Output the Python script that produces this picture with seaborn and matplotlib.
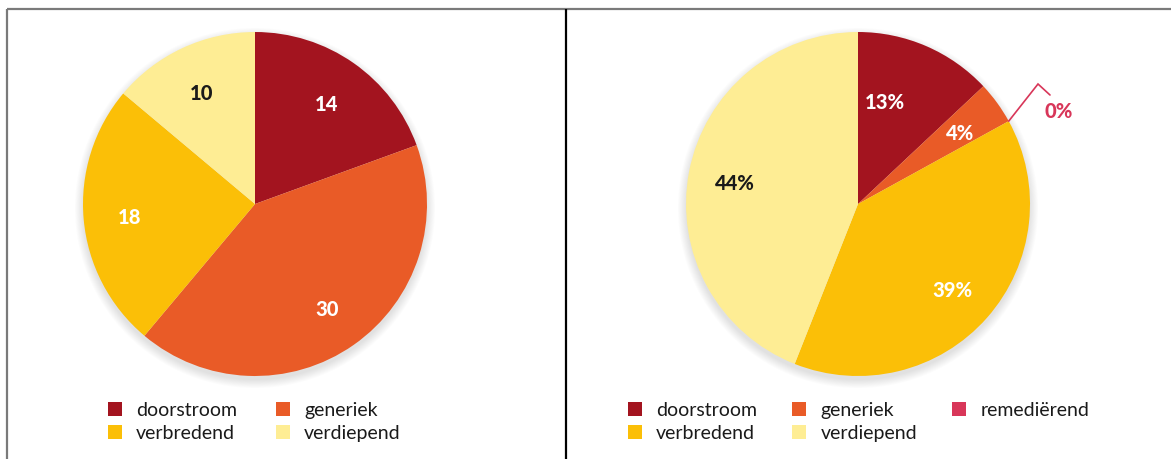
import numpy as np
import matplotlib
matplotlib.use("Agg")
import matplotlib.pyplot as plt
import seaborn as sns
from matplotlib.patches import Patch, Circle

sns.set_theme(style="white")
plt.rcParams['font.family'] = ['Lato', 'DejaVu Sans']

# Data: left pie (counts) and right pie (percentages)
left_names = ['doorstroom', 'generiek', 'verbredend', 'verdiepend']
left_values = [14, 30, 18, 10]

right_names = ['doorstroom', 'generiek', 'remediërend', 'verbredend', 'verdiepend']
right_values = [13, 4, 0, 39, 44]

palette = {
    'doorstroom': '#A3141F',
    'generiek': '#E95B27',
    'remediërend': '#D83659',
    'verbredend': '#FBBF07',
    'verdiepend': '#FEED94',
}
text_dark = '#1a1a1a'

W, H = 1171, 459
fig = plt.figure(figsize=(W / 100, H / 100), dpi=100)
ax = fig.add_axes([0, 0, 1, 1])
ax.set_xlim(0, W)
ax.set_ylim(0, H)
ax.axis('off')

R = 172


def soft_shadow(cx, cy):
    for i in range(10):
        ax.add_patch(Circle((cx, cy - 4), R + i * 0.9, color='black',
                            alpha=0.012, lw=0, zorder=0))


def draw_pie(cx, cy, names, values, fmt, nudges=None):
    nudges = nudges or {}
    soft_shadow(cx, cy)
    ax.pie(values, colors=[palette[n] for n in names],
           startangle=90, counterclock=False,
           center=(cx, cy), radius=R, frame=True,
           wedgeprops={'linewidth': 0})
    total = sum(values)
    angle = 90.0
    bounds = []
    for n, v in zip(names, values):
        span = v / total * 360
        mid = angle - span / 2
        bounds.append((angle, angle - span, mid))
        angle -= span
        if v == 0:
            continue
        da, rf = nudges.get(n, (0, 0.73))
        a = np.deg2rad(mid + da)
        col = text_dark if n == 'verdiepend' else 'white'
        ax.text(cx + rf * R * np.cos(a), cy + rf * R * np.sin(a) - 3, fmt(v),
                ha='center', va='center', fontsize=14.5, fontweight='black',
                color=col, zorder=5)
    return bounds


left_bounds = draw_pie(255, 255, left_names, left_values, lambda v: f'{v}')
right_bounds = draw_pie(858, 255, right_names, right_values, lambda v: f'{v}%',
                        nudges={'doorstroom': (9, 0.63)})

# leader line for the zero slice
zi = right_values.index(0)
a0 = np.deg2rad(right_bounds[zi][2])
p0 = (858 + R * np.cos(a0), 255 + R * np.sin(a0))
ax.plot([p0[0], 1038, 1050], [p0[1], 375, 364], color=palette['remediërend'],
        lw=1.2, solid_joinstyle='miter', zorder=6)
ax.text(1059, 348, f'{right_values[zi]}%', ha='center', va='center',
        fontsize=14.5, fontweight='black', color=palette['remediërend'])

# panel frame
ax.plot([7, W], [450, 450], color='#7a7a7a', lw=1.6, solid_capstyle='butt')
ax.plot([7, 7], [0, 450], color='#7a7a7a', lw=1.6, solid_capstyle='butt')
ax.plot([566, 566], [0, 450], color='black', lw=1.6, solid_capstyle='butt')

ax.set_xlim(0, W)
ax.set_ylim(0, H)
ax.set_aspect('auto')


def make_legend(order, anchor, ncol, colspacing):
    handles = [Patch(facecolor=palette[n], edgecolor='none', label=n) for n in order]
    leg = ax.legend(handles=handles, loc='upper left', bbox_to_anchor=anchor,
                    bbox_transform=ax.transData, ncol=ncol, frameon=False,
                    fontsize=14, handlelength=0.7, handleheight=0.7,
                    handletextpad=0.75, columnspacing=colspacing,
                    labelspacing=0.3, borderpad=0, borderaxespad=0)
    for t in leg.get_texts():
        t.set_color(text_dark)
    return leg


leg1 = make_legend(['doorstroom', 'verbredend', 'generiek', 'verdiepend'],
                   (108, 57), 2, 2.0)
ax.add_artist(leg1)
make_legend(['doorstroom', 'verbredend', 'generiek', 'verdiepend', 'remediërend'],
            (628, 57), 3, 1.8)

fig.savefig('out.png', dpi=100, facecolor='white')
